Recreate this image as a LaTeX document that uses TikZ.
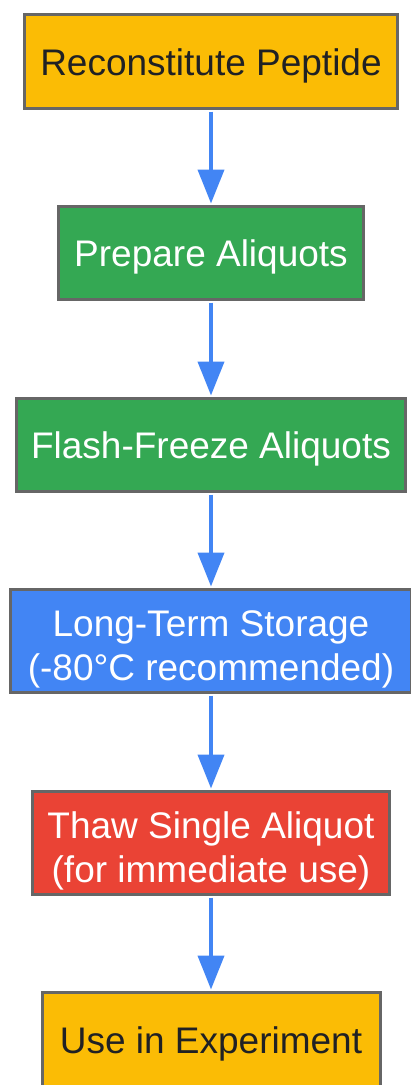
\documentclass[tikz,border=0pt]{standalone}
\usepackage{fontspec}
\setmainfont{Liberation Sans}
\usepackage{tikz}
\usetikzlibrary{arrows.meta}
\usetikzlibrary{positioning}

\definecolor{stepyellow}{HTML}{FBBC05}
\definecolor{stepgreen}{HTML}{34A853}
\definecolor{stepblue}{HTML}{4285F4}
\definecolor{stepred}{HTML}{EA4335}
\definecolor{stepborder}{HTML}{666666}
\definecolor{steptext}{HTML}{202124}

\begin{document}
\begin{tikzpicture}
	[x=1pt,y=-1pt,every node/.style={rectangle,draw=stepborder,line width=3pt,inner sep=0pt,align=center,font=\fontsize{37}{44}\selectfont},
	oneline/.style={text height=27pt,text depth=0pt},twoline/.style={text height=78pt,text depth=0pt}]
	\useasboundingbox (0,0) rectangle (411,1085);
	\node[oneline,style={fill=stepyellow,text=steptext,minimum width=373pt,minimum height=94pt}] (n1) at (211,61.5) {Reconstitute Peptide};
	\node[oneline,style={fill=stepgreen,text=white,minimum width=305pt,minimum height=93pt}] (n2) at (211,253) {Prepare Aliquots};
	\node[oneline,style={fill=stepgreen,text=white,minimum width=389pt,minimum height=93pt}] (n3) at (211,445) {Flash-Freeze Aliquots};
	\node[twoline,style={fill=stepblue,text=white,minimum width=401pt,minimum height=103pt}] (n4) at (211,641) {Long-Term Storage\\(-80\textdegree C recommended)};
	\node[twoline,style={fill=stepred,text=white,minimum width=357pt,minimum height=103pt}] (n5) at (211,843) {Thaw Single Aliquot\\(for immediate use)};
	\node[oneline,style={fill=stepyellow,text=steptext,minimum width=338pt,minimum height=94pt}] (n6) at (211,1039.5) {Use in Experiment};
	
	\foreach \from/\to in
	{n1/n2, n2/n3, n3/n4, n4/n5, n5/n6}
	\draw[stepblue,line width=4pt,-{Triangle[width=26pt,length=34pt]},shorten <=1.5pt,shorten >=1.5pt] (\from) -- (\to);
\end{tikzpicture}
\end{document}
